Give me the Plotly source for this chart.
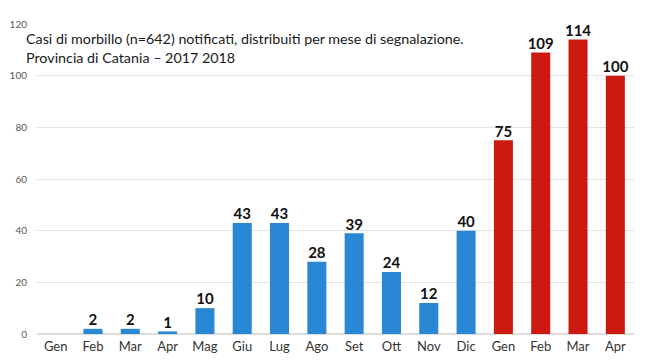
import plotly.graph_objects as go

months = ["Gen", "Feb", "Mar", "Apr", "Mag", "Giu", "Lug", "Ago", "Set", "Ott", "Nov", "Dic",
          "Gen", "Feb", "Mar", "Apr"]
years = ["2017"] * 12 + ["2018"] * 4
cases = [0, 2, 2, 1, 10, 43, 43, 28, 39, 24, 12, 40, 75, 109, 114, 100]
y_ticks = [0, 20, 40, 60, 80, 100, 120]

BLUE = "#2a87d3"
RED = "#cc1a10"

x_idx = list(range(len(months)))
colors = [BLUE if y == "2017" else RED for y in years]
labels = [str(v) if v > 0 else "" for v in cases]

fig = go.Figure()
fig.add_trace(go.Bar(
    x=x_idx, y=cases, marker=dict(color=colors, line=dict(width=0)),
    width=0.51, hoverinfo="skip",
))
fig.add_trace(go.Scatter(
    x=x_idx, y=cases, mode="text", text=labels, textposition="top center",
    textfont=dict(family="Lato", size=15, color="#111111", weight="bold"),
    cliponaxis=False, hoverinfo="skip",
))

fig.update_layout(
    width=646, height=364,
    margin=dict(l=29, r=20, t=16, b=38, autoexpand=False),
    paper_bgcolor="white", plot_bgcolor="white",
    showlegend=False,
    font=dict(family="Lato"),
    xaxis=dict(tickmode="array", tickvals=x_idx, ticktext=months,
               range=[-0.5, len(months) - 0.5], automargin=False,
               tickfont=dict(size=13, color="#333333"), showgrid=False,
               ticks="", showline=False, zeroline=False, ticklabelstandoff=3),
    yaxis=dict(range=[0, 120], tickvals=y_ticks, showgrid=True, automargin=False,
               gridcolor="#e3e3e3", gridwidth=1,
               tickfont=dict(size=10, color="#595959"),
               zeroline=True, zerolinecolor="#dddddd", showline=False,
               ticklabelstandoff=9),
    annotations=[dict(
        text="Casi di morbillo (n=642) notificati, distribuiti per mese di segnalazione.<br>Provincia di Catania – 2017 2018",
        xref="paper", yref="paper", x=-0.022, y=0.987, xanchor="left", yanchor="top",
        align="left", showarrow=False,
        font=dict(family="Lato", size=14.3, color="#1a1a1a"))],
)

fig.write_html("out.html")
